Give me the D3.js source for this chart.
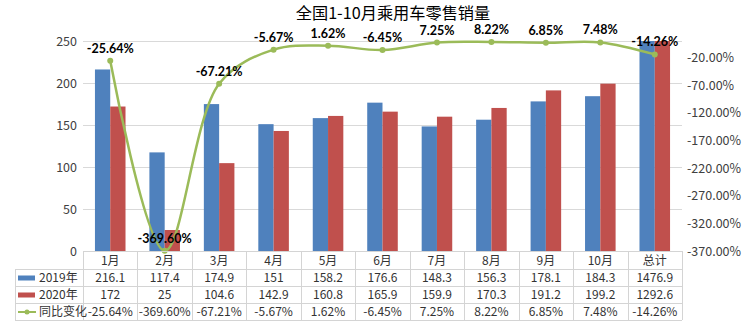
<!DOCTYPE html>
<html><head><meta charset="utf-8">
<script src="https://cdn.jsdelivr.net/npm/d3@7"></script>
<style>body{margin:0;background:#fff;}svg{display:block;}</style>
</head><body>
<svg id="c" width="744" height="326"></svg>
<script>
const categories = ["1月","2月","3月","4月","5月","6月","7月","8月","9月","10月","总计"];
const sales2019 = [216.1,117.4,174.9,151,158.2,176.6,148.3,156.3,178.1,184.3,1476.9];
const sales2020 = [172,25,104.6,142.9,160.8,165.9,159.9,170.3,191.2,199.2,1292.6];
const yoy = [-25.64,-369.60,-67.21,-5.67,1.62,-6.45,7.25,8.22,6.85,7.48,-14.26];
const seriesNames = ["2019年","2020年","同比变化"];
const leftTicks = [0,50,100,150,200,250];
const rightTicks = [-370,-320,-270,-220,-170,-120,-70,-20];
const title = "全国1-10月乘用车零售销量";

const colors = ["#4F81BD","#C0504D","#9BBB59"];
const font = "'Noto Sans CJK SC','Noto Sans',sans-serif";
const labelFont = "Lato,'Noto Sans',sans-serif";
const svg = d3.select("#c");
const L = 83, R = 682, T = 41, B = 251;

const x = d3.scaleBand().domain(categories).range([L,R]).paddingInner(0).paddingOuter(0);
const inner = d3.scaleBand().domain([0,1]).range([0, x.bandwidth()]).paddingInner(0).paddingOuter(0.782);
const yL = d3.scaleLinear().domain([0,250]).range([B,T]).clamp(true);
const yR = d3.scaleLinear().domain([-370,10]).range([B,T]);

// title
svg.append("text").attr("x",393).attr("y",18.6).attr("text-anchor","middle")
  .attr("font-family",font).attr("font-size",16.2).attr("fill","#000").text(title);

// gridlines
svg.append("g").selectAll("line").data(leftTicks.filter(d=>d>0)).join("line")
  .attr("x1",L).attr("x2",R).attr("y1",d=>yL(d)+0.5).attr("y2",d=>yL(d)+0.5)
  .attr("stroke","#d9d9d9").attr("stroke-width",1);

// left axis
const la = svg.append("g").attr("transform",`translate(${L-6},0)`)
  .call(d3.axisLeft(yL).tickValues(leftTicks).tickSize(0).tickPadding(0));
la.select(".domain").remove();
la.selectAll("text").attr("font-family",font).attr("font-size",12.5).attr("fill","#404040");

// right axis
const ra = svg.append("g").attr("transform",`translate(${R+5},0)`)
  .call(d3.axisRight(yR).tickValues(rightTicks).tickSize(0).tickPadding(0).tickFormat(d=>d.toFixed(2)+"%"));
ra.select(".domain").remove();
ra.selectAll("text").attr("font-family",font).attr("font-size",12.5).attr("fill","#404040");

// bars
const bars = svg.append("g");
[sales2019, sales2020].forEach((vals,si)=>{
  bars.selectAll(null).data(vals).join("rect")
    .attr("x",(d,i)=>x(categories[i])+inner(si))
    .attr("width",inner.bandwidth())
    .attr("y",d=>yL(d))
    .attr("height",d=>B-yL(d))
    .attr("fill",colors[si]);
});

// line
const cx = i => x(categories[i]) + x.bandwidth()/2;
const line = d3.line().x((d,i)=>cx(i)).y(d=>yR(d)).curve(d3.curveCatmullRom.alpha(0.5));
svg.append("path").datum(yoy).attr("d",line).attr("fill","none")
  .attr("stroke",colors[2]).attr("stroke-width",2.5);
svg.append("g").selectAll("circle").data(yoy).join("circle")
  .attr("cx",(d,i)=>cx(i)).attr("cy",d=>yR(d)).attr("r",3).attr("fill",colors[2]);

// data labels
svg.append("g").selectAll("text").data(yoy).join("text")
  .attr("x",(d,i)=>cx(i)).attr("y",d=>yR(d)-8)
  .attr("text-anchor","middle").attr("font-family",labelFont).attr("font-size",12.5)
  .attr("font-weight","bold").attr("fill","#000")
  .text(d=>d.toFixed(2)+"%");

// data table
const rowsY = [251,269,286,303,320];
const tbl = svg.append("g");
const stroke = "#d4d4d4";
tbl.append("line").attr("x1",L).attr("x2",R).attr("y1",rowsY[0]+0.5).attr("y2",rowsY[0]+0.5).attr("stroke",stroke);
rowsY.slice(1).forEach(yv=>{
  tbl.append("line").attr("x1",15).attr("x2",R).attr("y1",yv+0.5).attr("y2",yv+0.5).attr("stroke",stroke);
});
tbl.append("line").attr("x1",15.5).attr("x2",15.5).attr("y1",rowsY[1]).attr("y2",rowsY[4]).attr("stroke",stroke);
tbl.selectAll(null).data(categories.concat(["end"])).join("line")
  .attr("x1",(d,i)=>Math.round(L+i*x.bandwidth())+0.5).attr("x2",(d,i)=>Math.round(L+i*x.bandwidth())+0.5)
  .attr("y1",rowsY[0]).attr("y2",rowsY[4]).attr("stroke",stroke);

const cellText = (vals,row,fmt)=>{
  tbl.selectAll(null).data(vals).join("text")
    .attr("x",(d,i)=>cx(i)).attr("y",(rowsY[row]+rowsY[row+1])/2+4.5)
    .attr("text-anchor","middle").attr("font-family",font).attr("font-size",12).attr("fill","#333")
    .text(fmt);
};
cellText(categories,0,d=>d);
cellText(sales2019,1,d=>String(d));
cellText(sales2020,2,d=>String(d));
cellText(yoy,3,d=>d.toFixed(2)+"%");

// legend keys in table
seriesNames.forEach((n,k)=>{
  const yc = (rowsY[k+1]+rowsY[k+2])/2;
  if(k<2){
    tbl.append("rect").attr("x",18).attr("y",yc-2).attr("width",17).attr("height",5).attr("fill",colors[k]);
  } else {
    tbl.append("line").attr("x1",18).attr("x2",36).attr("y1",yc+0.5).attr("y2",yc+0.5).attr("stroke",colors[2]).attr("stroke-width",2);
    tbl.append("circle").attr("cx",27).attr("cy",yc+0.5).attr("r",2.5).attr("fill",colors[2]);
  }
  tbl.append("text").attr("x",39).attr("y",yc+4.5).attr("font-family",font).attr("font-size",12)
    .attr("fill","#333").text(n);
});
</script>
</body></html>
